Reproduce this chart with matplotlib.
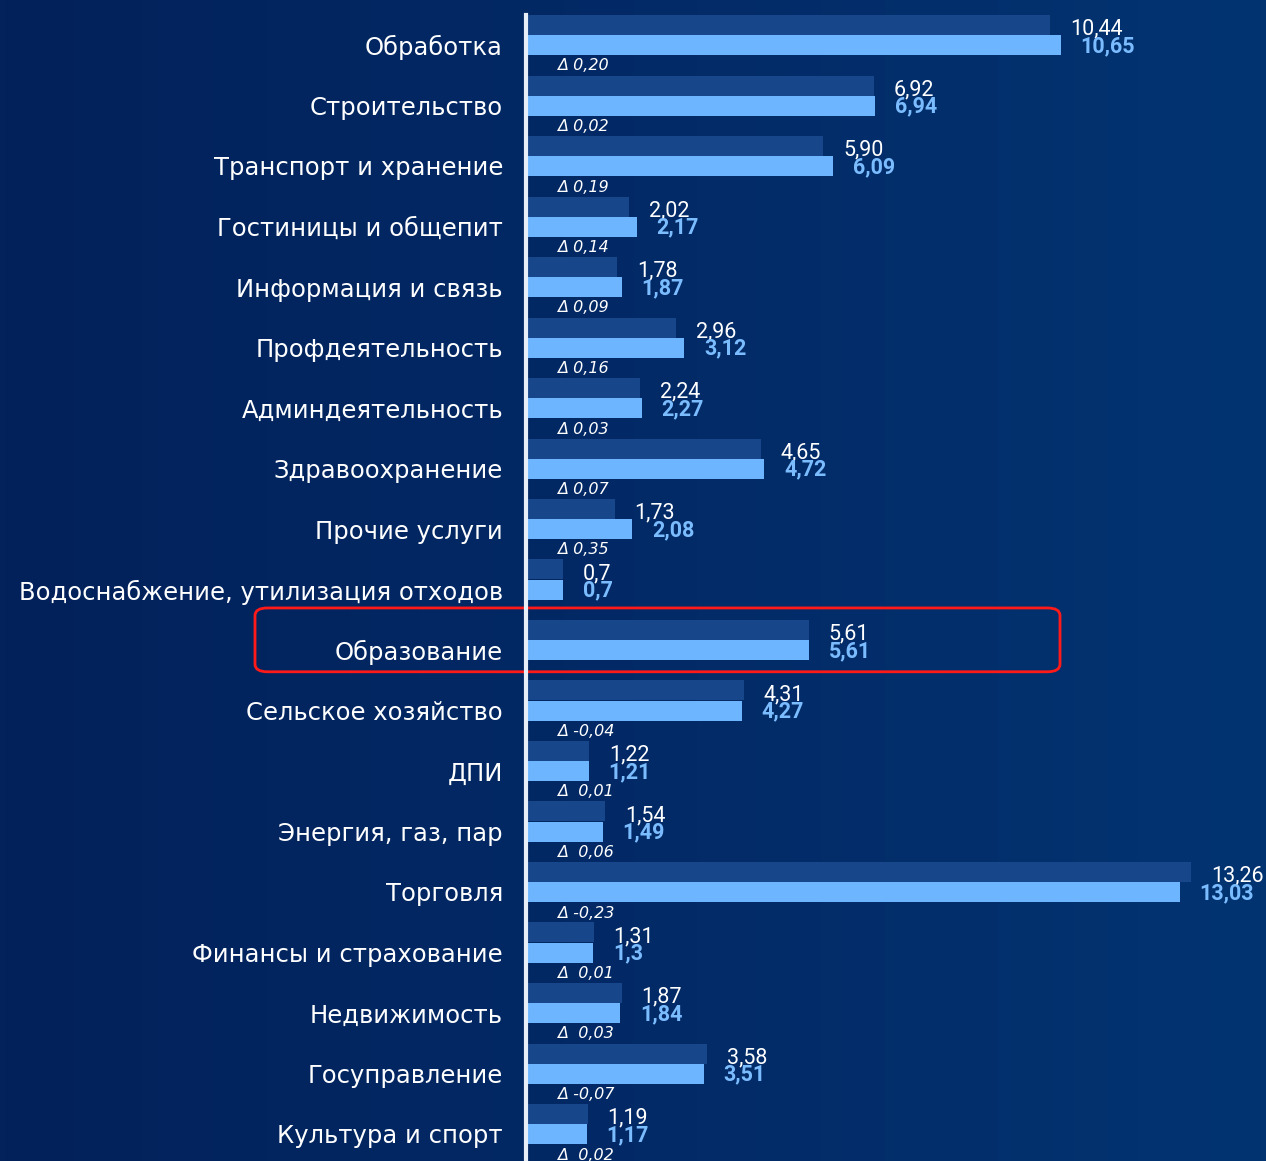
import numpy as np
import matplotlib as mtp
mtp.use('Agg')
import matplotlib.pyplot as plt
from matplotlib.patches import FancyBboxPatch

# ДАННЫЕ
categories = ["Обработка", "Строительство", "Транспорт и хранение", "Гостиницы и общепит",
              "Информация и связь", "Профдеятельность", "Админдеятельность", "Здравоохранение",
              "Прочие услуги", "Водоснабжение, утилизация отходов", "Образование",
              "Сельское хозяйство", "ДПИ", "Энергия, газ, пар", "Торговля",
              "Финансы и страхование", "Недвижимость", "Госуправление", "Культура и спорт"]
prev_vals = [10.44, 6.92, 5.90, 2.02, 1.78, 2.96, 2.24, 4.65, 1.73, 0.7, 5.61,
             4.31, 1.22, 1.54, 13.26, 1.31, 1.87, 3.58, 1.19]
curr_vals = [10.65, 6.94, 6.09, 2.17, 1.87, 3.12, 2.27, 4.72, 2.08, 0.7, 5.61,
             4.27, 1.21, 1.49, 13.03, 1.3, 1.84, 3.51, 1.17]
prev_labels = ["10,44", "6,92", "5,90", "2,02", "1,78", "2,96", "2,24", "4,65", "1,73", "0,7", "5,61",
               "4,31", "1,22", "1,54", "13,26", "1,31", "1,87", "3,58", "1,19"]
curr_labels = ["10,65", "6,94", "6,09", "2,17", "1,87", "3,12", "2,27", "4,72", "2,08", "0,7", "5,61",
               "4,27", "1,21", "1,49", "13,03", "1,3", "1,84", "3,51", "1,17"]
delta_labels = ["Δ 0,20", "Δ 0,02", "Δ 0,19", "Δ 0,14", "Δ 0,09", "Δ 0,16", "Δ 0,03", "Δ 0,07",
                "Δ 0,35", "", "", "Δ -0,04", "Δ  0,01", "Δ  0,06", "Δ -0,23", "Δ  0,01",
                "Δ  0,03", "Δ -0,07", "Δ  0,02"]
highlight = "Образование"

W, H = 1266, 1161
PX_UNIT = 50.0      # пикселей на единицу по X
ROW = 60.5          # пикселей на категорию
X0 = 528            # начало столбцов

fig = plt.figure(figsize=(W / 100, H / 100), dpi=100)

# фон с градиентом
bg = fig.add_axes([0, 0, 1, 1])
grad = np.linspace(0, 1, 256).reshape(1, -1)
cmap = mtp.colors.LinearSegmentedColormap.from_list("bg", ["#03215a", "#022a66", "#033472"])
bg.imshow(grad, aspect='auto', cmap=cmap, extent=[0, 1, 0, 1])
bg.set_axis_off()

ax = fig.add_axes([X0 / W, 0, 1 - X0 / W, 1])
ax.set_facecolor('none')
ax.set_xlim(0, (W - X0) / PX_UNIT)
top = -45 / ROW
ax.set_ylim(top + H / ROW, top)

y = np.arange(len(categories))
bh = 20 / ROW
ax.barh(y - bh, prev_vals, height=bh, color="#17468a", align='center')
ax.barh(y, curr_vals, height=bh, color="#6db6ff", align='center')

for i in range(len(categories)):
    ax.text(prev_vals[i] + 0.4, i - bh * 0.8, prev_labels[i], color="white",
            fontsize=15.5, family="Roboto", va='center', ha='left')
    ax.text(curr_vals[i] + 0.4, i + bh * 0.05, curr_labels[i], color="#7bbcff",
            fontsize=15.5, family="Roboto", fontweight='bold', va='center', ha='left')
    if delta_labels[i]:
        ax.text(0.58, i + bh * 1.05, delta_labels[i], color="white", fontsize=11.5,
                family="DejaVu Sans", style='italic', va='center', ha='left')

ax.set_yticks(y)
ax.set_yticklabels(categories, color="white", fontsize=17.5, family="DejaVu Sans")
ax.tick_params(axis='y', length=0, pad=18)
ax.set_xticks([])
for s in ax.spines.values():
    s.set_visible(False)

# вертикальная ось
ax.axvline(-0.04, ymin=0, ymax=1 - 15 / H, color="#e8eef8", lw=3, clip_on=False)

# рамка вокруг выделенной категории
hi = categories.index(highlight)
x_left = (255 - X0) / PX_UNIT
x_right = (1060 - X0) / PX_UNIT
box = FancyBboxPatch((x_left, hi - 0.695), x_right - x_left, 1.055,
                     boxstyle="round,pad=0,rounding_size=0.25", mutation_aspect=0.5,
                     fill=False, edgecolor="#ff1a1a", lw=2, clip_on=False)
ax.add_patch(box)

fig.savefig("out.png", dpi=100)
